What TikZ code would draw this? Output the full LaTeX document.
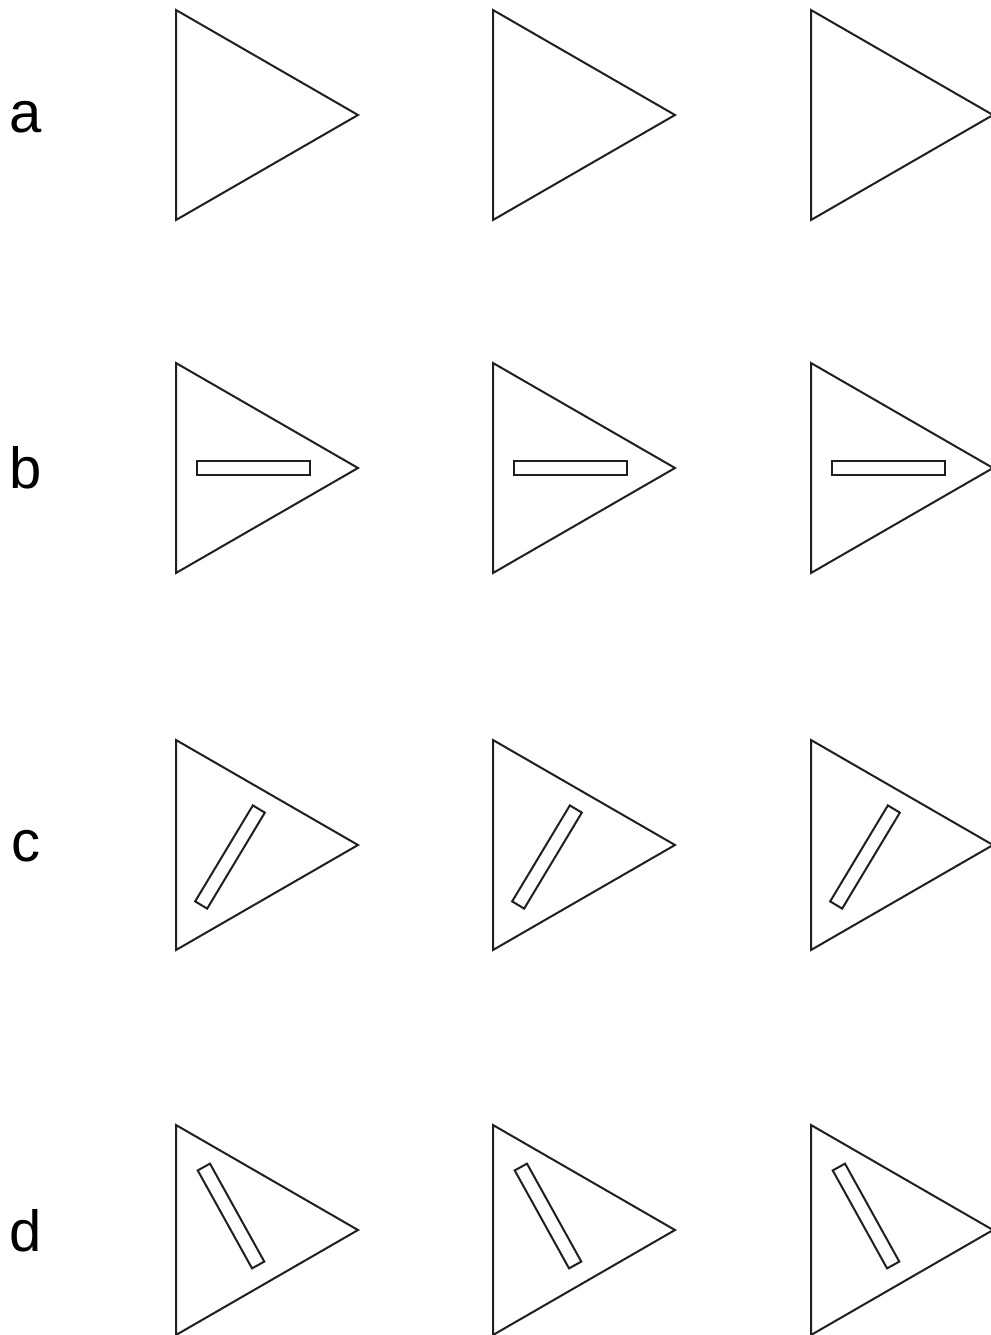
\documentclass[tikz,border=0pt]{standalone}
\usepackage{fontspec}
\setmainfont{Liberation Sans}
\begin{document}
\begin{tikzpicture}[x=1pt,y=-1pt]
\tikzset{
  tri/.style={draw=black!88, line width=2pt, line join=miter},
  bar/.style={draw=black!88, line width=2pt, line join=miter},
  lbl/.style={font=\fontsize{58}{60}\selectfont, inner sep=0pt, anchor=center}
}
\useasboundingbox (0,0) rectangle (990,1335);
\node[lbl] (la) at (26,117) {a};
\node[lbl] (lb) at (26,468) {b};
\node[lbl] (lc) at (26,846) {c};
\node[lbl] (ld) at (26,1231) {d};
\foreach \cx in {176,493,811}{
  % row a
  \draw[tri] (\cx,10) -- (\cx+182,115) -- (\cx,220) -- cycle;
  % row b
  \draw[tri] (\cx,363) -- (\cx+182,468) -- (\cx,573) -- cycle;
  \draw[bar] (\cx+21,461) rectangle (\cx+134,475);
  % row c
  \draw[tri] (\cx,740) -- (\cx+182,845) -- (\cx,950) -- cycle;
  \draw[bar, shift={(\cx+54,857)}, rotate=59] (-56,-7) rectangle (56,7);
  % row d
  \draw[tri] (\cx,1125) -- (\cx+182,1230) -- (\cx,1335) -- cycle;
  \draw[bar, shift={(\cx+55,1216)}, rotate=-61] (-56,-7) rectangle (56,7);
}
\end{tikzpicture}
\end{document}
